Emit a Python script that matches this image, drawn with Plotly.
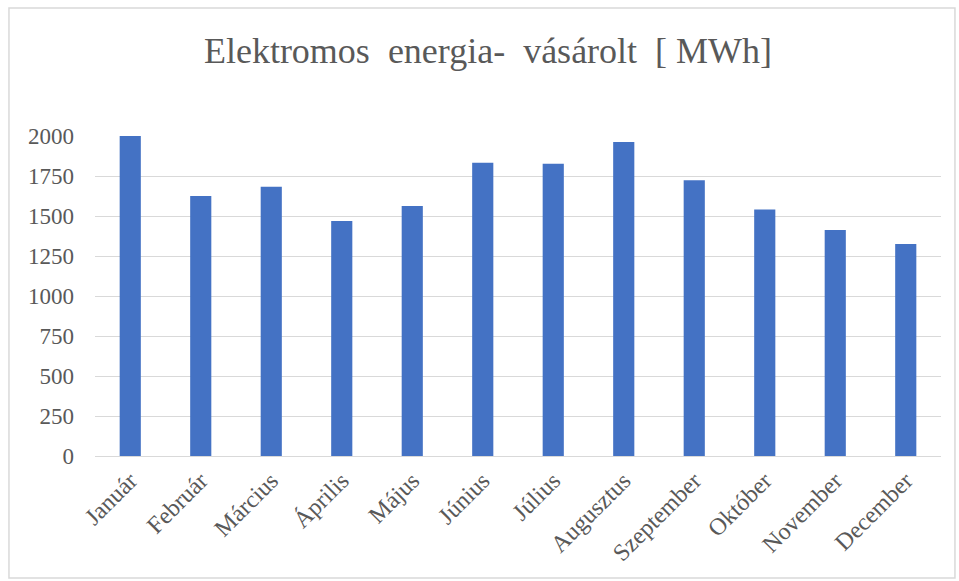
import plotly.graph_objects as go

# Monthly purchased electrical energy, MWh
months = ["Január", "Február", "Március", "Április", "Május", "Június",
          "Július", "Augusztus", "Szeptember", "Október", "November", "December"]
energy_mwh = [2000, 1625, 1683, 1469, 1562, 1833, 1827, 1962, 1723, 1540, 1412, 1325]
y_ticks = [0, 250, 500, 750, 1000, 1250, 1500, 1750, 2000]

FONT = "Liberation Serif, Times New Roman, serif"
TEXT_GRAY = "#595959"

fig = go.Figure(
    go.Bar(
        x=months,
        y=energy_mwh,
        marker=dict(color="#4472C4", line=dict(width=0)),
        width=0.3,
        hoverinfo="x+y",
    )
)

fig.update_layout(
    width=959,
    height=581,
    margin=dict(l=95, r=18, t=136, b=125),
    paper_bgcolor="white",
    plot_bgcolor="white",
    showlegend=False,
    title=dict(
        text="Elektromos  energia-  vásárolt  [ MWh]",
        x=488 / 959,
        xref="container",
        xanchor="center",
        y=1 - 50 / 581,
        yref="container",
        yanchor="middle",
        font=dict(family=FONT, size=36, color=TEXT_GRAY),
    ),
    font=dict(family=FONT, color=TEXT_GRAY),
    shapes=[
        dict(
            type="rect", xref="paper", yref="paper",
            x0=-0.1017, x1=1.0165, y0=-0.381, y1=1.4,
            line=dict(color="#d9d9d9", width=1.5), layer="below",
        )
    ],
)

fig.update_xaxes(
    tickangle=-45,
    tickfont=dict(family=FONT, size=24, color=TEXT_GRAY),
    showgrid=False,
    showline=True,
    linecolor="#d9d9d9",
    linewidth=1,
    ticks="",
    automargin=False,
)

fig.update_yaxes(
    range=[0, 2000],
    tickvals=y_ticks,
    tickfont=dict(family=FONT, size=23, color=TEXT_GRAY),
    showgrid=True,
    gridcolor="#d9d9d9",
    gridwidth=1,
    zeroline=False,
    showline=False,
    ticks="",
    ticklabelstandoff=20,
    automargin=False,
)

fig.write_html("out.html")
